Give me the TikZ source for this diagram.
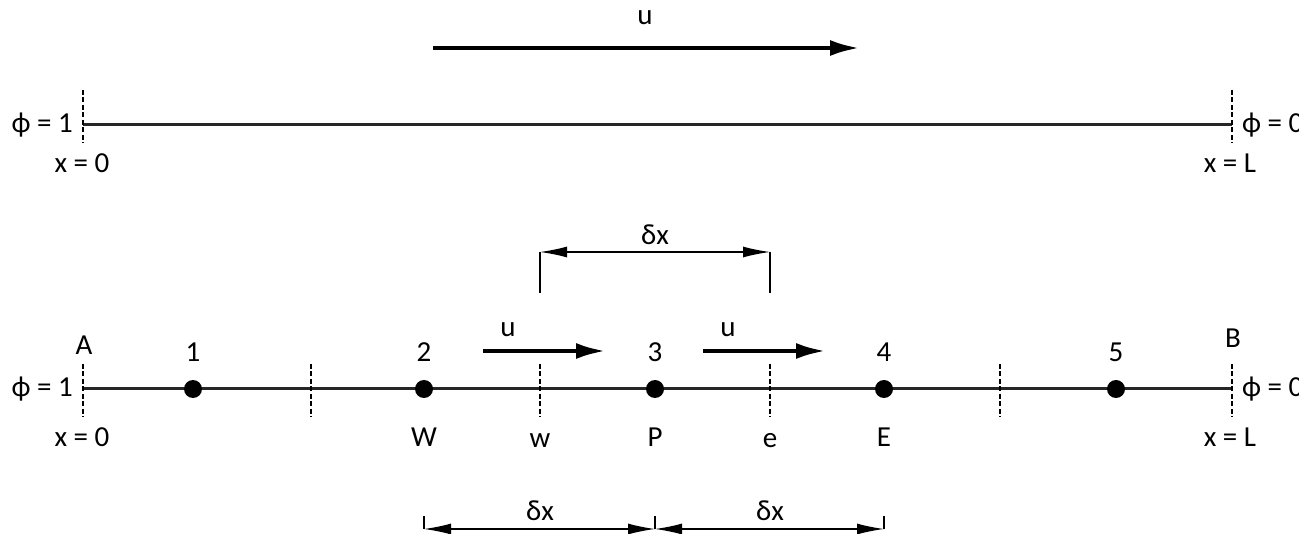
\documentclass[tikz,border=0pt]{standalone}
\usepackage{fontspec}
\setmainfont{Carlito}
\usetikzlibrary{arrows.meta}
\begin{document}
\begin{tikzpicture}[x=1pt,y=-1pt,
  lbl/.style={font=\fontsize{29}{33}\selectfont, inner sep=0pt},
  axis/.style={line width=3pt, draw=black!85},
  bnd/.style={line width=1.3pt, dash pattern=on 5pt off 2.5pt},
  flow/.style={line width=4.5pt, -{Latex[length=30pt,width=16pt]}},
  dimline/.style={line width=1.3pt, {Latex[length=27pt,width=11pt]}-{Latex[length=27pt,width=11pt]}},
  ext/.style={line width=1.3pt},
  pt/.style={circle, fill=black, minimum size=18pt, inner sep=0pt}]
\useasboundingbox (0,0) rectangle (1299,534);
% ---------- top ----------
\coordinate (ua) at (433,48);
\coordinate (ub) at (860,48);
\draw[flow] (ua) -- (ub);
\node[lbl] (ulab) at (645,18) {u};
\coordinate (tA) at (83,125);
\coordinate (tB) at (1232,125);
\draw[axis] (tA) -- (tB);
\coordinate (tA1) at (83,90); \coordinate (tA2) at (83,143);
\coordinate (tB1) at (1232,90); \coordinate (tB2) at (1232,143);
\draw[bnd] (tA1) -- (tA2);
\draw[bnd] (tB1) -- (tB2);
\node[lbl, anchor=east] (tphiA) at (73,125) {ϕ = 1};
\node[lbl, anchor=west] (tphiB) at (1242,125) {ϕ = 0};
\node[lbl] (tx0) at (82,163) {x = 0};
\node[lbl] (txL) at (1230,163) {x = L};
% ---------- bottom ----------
\coordinate (A) at (83,389);
\coordinate (B) at (1232,389);
\draw[axis] (A) -- (B);
\foreach \x/\n in {83/f0,311/f1,540/fw,770/fe,1000/f4,1232/f5}{
  \coordinate (\n a) at (\x,364); \coordinate (\n b) at (\x,417);
  \draw[bnd] (\n a) -- (\n b);
}
\foreach \x/\n in {193/1,424/2,655/3,884/4,1116/5}{
  \node[pt] (n\n) at (\x,389) {};
  \node[lbl] (l\n) at (\x,352) {\n};
}
\node[lbl] (labA) at (84,345) {A};
\node[lbl] (labB) at (1233,338) {B};
\node[lbl, anchor=east] (phiA) at (73,389) {ϕ = 1};
\node[lbl, anchor=west] (phiB) at (1242,389) {ϕ = 0};
\node[lbl] (x0) at (82,437) {x = 0};
\node[lbl] (xL) at (1230,437) {x = L};
\node[lbl] (W) at (424,437) {W};
\node[lbl] (w) at (540,441) {w};
\node[lbl] (P) at (655,437) {P};
\node[lbl] (e) at (770,441) {e};
\node[lbl] (E) at (884,437) {E};
% small flow arrows
\coordinate (s1a) at (483,351); \coordinate (s1b) at (606,351);
\coordinate (s2a) at (703,351); \coordinate (s2b) at (826,351);
\draw[flow] (s1a) -- (s1b);
\draw[flow] (s2a) -- (s2b);
\node[lbl] (u1) at (508,330) {u};
\node[lbl] (u2) at (728,330) {u};
% top dimension
\coordinate (dw1) at (540,293); \coordinate (dw2) at (540,252);
\coordinate (de1) at (770,293); \coordinate (de2) at (770,252);
\draw[ext] (dw1) -- (dw2);
\draw[ext] (de1) -- (de2);
\draw[dimline] (dw2) -- (de2);
\node[lbl] (dx0) at (655,235) {δx};
% bottom dimensions
\coordinate (bW1) at (424,516); \coordinate (bW2) at (424,529);
\coordinate (bP1) at (655,516); \coordinate (bP2) at (655,529);
\coordinate (bE1) at (884,516); \coordinate (bE2) at (884,529);
\draw[ext] (bW1) -- (bW2);
\draw[ext] (bP1) -- (bP2);
\draw[ext] (bE1) -- (bE2);
\draw[dimline] (bW2) -- (bP2);
\draw[dimline] (bP2) -- (bE2);
\node[lbl] (dx1) at (540,511) {δx};
\node[lbl] (dx2) at (770,511) {δx};
\end{tikzpicture}
\end{document}
